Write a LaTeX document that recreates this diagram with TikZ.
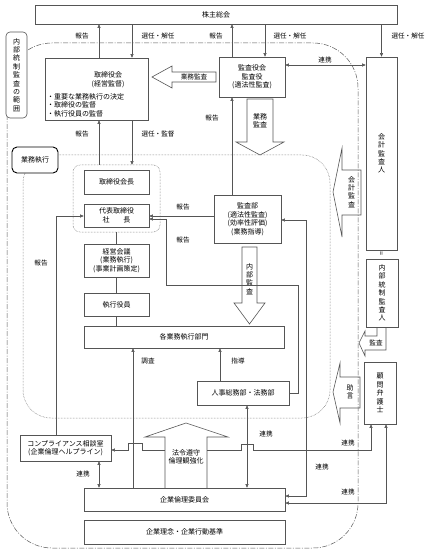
\documentclass[tikz,border=0pt]{standalone}
\usepackage{fontspec}
\setmainfont{Noto Sans CJK JP}
\usetikzlibrary{arrows.meta}
\definecolor{linegray}{RGB}{85,85,85}

\begin{document}
\begin{tikzpicture}[x=1pt,y=-1pt,
  font=\fontsize{7}{8.5}\selectfont,
  box/.style={draw=linegray, line width=0.6pt, align=center, inner sep=1pt},
  sz/.style 2 args={minimum width=#1pt, minimum height=#2pt},
  vtext/.style={align=center, inner sep=0pt, font=\fontsize{7}{8.4}\selectfont},
  lbl/.style={inner sep=0pt, font=\fontsize{6.6}{8}\selectfont},
  ln/.style={draw=linegray, line width=0.5pt},
  arr/.style={ln, -{Triangle[length=3.5pt,width=3pt]}},
  darr/.style={ln, {Triangle[length=3.5pt,width=3pt]}-{Triangle[length=3.5pt,width=3pt]}},
  hollow/.style={draw=linegray, line width=0.6pt, line join=miter}]
  \useasboundingbox (0,0) rectangle (431,553);

  % ranges
  \draw[linegray, line width=0.5pt, dash pattern=on 5pt off 1.5pt on 1pt off 1.5pt, rounded corners=45pt]
        (7,43) rectangle (358,548);
  \draw[linegray, line width=0.5pt, densely dotted, rounded corners=28pt]
        (23,155) rectangle (330,418);
  \node[box, sz={21}{86}, rounded corners=4pt, fill=white, vtext] (hani) at (16.5,75)
        {内\\部\\統\\制\\監\\査\\の\\範\\囲};
  \node[box, sz={46}{26}, rounded corners=5pt, fill=white, draw=black, line width=0.9pt] (gyomu) at (35,160) {業務執行};

  % boxes
  \node[box, sz={362}{19}] (kabu) at (216,14.5) {株主総会};
  \node[box, sz={103}{62}] (torikai) at (96.5,89) {};
  \node[align=center, inner sep=0pt] (torititle) at (108,79.5) {取締役会\\(経営監督)};
  \node[align=left, anchor=north west, inner sep=0pt] (toribullet) at (47,93)
        {・重要な業務執行の決定\\・取締役の監督\\・執行役員の監督};
  \node[box, sz={66}{40}] (kansayaku) at (252,77) {監査役会\\監査役\\(適法性監査)};
  \node[box, sz={31}{193}, vtext] (kaikei) at (381.5,153.5) {会\\計\\監\\査\\人};
  \node[inner sep=0pt, rotate=90] (equal) at (382,254) {=};
  \node[box, sz={32}{68}, vtext] (naibukansa) at (382,293) {内\\部\\統\\制\\監\\査\\人};
  \node[box, sz={32}{62}, vtext] (bengoshi) at (380,393) {顧\\問\\弁\\護\\士};

  \node[draw=linegray, line width=0.5pt, densely dotted, rounded corners=7pt, sz={87}{67}] (grp) at (116.5,198.5) {};
  \node[box, sz={65}{24}] (kaicho) at (116.5,182) {取締役会長};
  \node[box, sz={65}{23}] (shacho) at (116.5,215.5) {代表取締役\\社\hspace{2em}長};
  \node[box, sz={65}{33}] (keiei) at (116.5,260.5) {経営会議\\(業務執行)\\(事業計画策定)};
  \node[box, sz={65}{23}] (shikko) at (116.5,304.5) {執行役員};
  \node[box, sz={200}{22}] (kakubu) at (184,337) {各業務執行部門};
  \node[box, sz={67}{48}] (kansabu) at (247.5,219) {監査部\\(適法性監査)\\(効率性評価)\\(業務指導)};
  \node[box, sz={92}{24}] (jinji) at (243,393) {人事総務部・法務部};
  \node[box, sz={91}{26}] (compl) at (65.5,448) {コンプライアンス相談室\\(企業倫理ヘルプライン)};
  \node[box, sz={201}{23}] (rinri) at (184.5,499.5) {企業倫理委員会};
  \node[box, sz={201}{24}] (rinen) at (184.5,532) {企業理念・企業行動基準};

  % hollow arrows
  \draw[hollow] (216,72) -- (172,72) -- (172,66) -- (152,77) -- (172,88) -- (172,82) -- (216,82) -- cycle;
  \node[lbl] (gyomukansa) at (194,77) {業務監査};
  \draw[hollow] (247,99) -- (247,142) -- (236,142) -- (260,155) -- (284,142) -- (273,142) -- (273,99) -- cycle;
  \node[vtext] (gyomukansa2) at (260,121) {業務\\監査};
  \draw[hollow] (242,247) -- (242,303) -- (234,303) -- (249.5,324) -- (265,303) -- (257,303) -- (257,247) -- cycle;
  \node[vtext] (naibukansa2) at (249.5,279) {内\\部\\監\\査};
  \draw[hollow] (361,170) -- (342,170) -- (342,148) -- (333,192) -- (342,237) -- (342,215) -- (361,215) -- cycle;
  \node[vtext] (kaikeikansa) at (351.5,192) {会\\計\\監\\査};
  \draw[hollow] (360,377) -- (340,377) -- (340,363) -- (333,392) -- (340,423) -- (340,408) -- (360,408) -- cycle;
  \node[vtext] (jogen) at (350,392) {助\\言};
  \draw[hollow] (377,327) -- (377,336) -- (365,336) -- (365,331) -- (359,343) -- (365,356) -- (365,350) -- (386,350) -- (386,327);
  \node[lbl] (kansa) at (376,343) {監査};
  \draw[hollow] (165,488) -- (165,437) -- (145,437) -- (186,423) -- (228,437) -- (207,437) -- (207,488);
  \node[vtext] (horei) at (186,457) {法令遵守\\倫理観強化};

  % connectors
  \draw[arr] (99,0 |- torikai.north) -- (99,0 |- kabu.south);
  \draw[arr] (132,0 |- kabu.south) -- (132,0 |- torikai.north);
  \draw[arr] (232,0 |- kansayaku.north) -- (232,0 |- kabu.south);
  \draw[arr] (265,0 |- kabu.south) -- (265,0 |- kansayaku.north);
  \draw[arr] (kaikei.north |- kabu.south) -- (kaikei.north);
  \draw[darr] (kansayaku.east |- 0,65) -- (kaikei.west |- 0,65);
  \draw[arr] (99,0 |- grp.north) -- (99,0 |- torikai.south);
  \draw[arr] (132,0 |- torikai.south) -- (132,0 |- grp.north);
  \draw[arr] (232,0 |- kansabu.north) -- (232,0 |- kansayaku.south);
  \draw[arr] (kansabu.west |- 0,216) -- (shacho.east |- 0,216);
  \draw[arr] (jinji.east) -- ++(9,0) |- (166,285) |- (shacho.east |- 0,219);
  \draw[arr] (56,0 |- compl.north) |- (shacho.west |- 0,216);
  \draw[ln] (grp.south) -- (keiei.north);
  \draw[ln] (keiei.south) -- (shikko.north);
  \draw[ln] (shikko.south) -- (shikko.south |- kakubu.north);
  \draw[arr] (220,0 |- jinji.north) -- (220,0 |- kakubu.south);
  \draw[arr] (133,0 |- rinri.north) -- (133,0 |- kakubu.south);
  \draw[darr] (247,0 |- rinri.north) -- (247,0 |- jinji.south);
  \draw[darr] (kansabu.east |- 0,220) -| (306,496) -- (rinri.east |- 0,496);
  \draw[darr] (99,0 |- compl.south) -- (99,0 |- rinri.north);
  \draw[darr] (rinri.east |- 0,503) -| (386,0 |- bengoshi.south);
  \coordinate (horeiL) at (165,450);
  \coordinate (horeiR) at (207,450);
  \draw[arr] (horeiL) -- (142,450) -- (142,443) -- (128,443) -- (128,450) -- (compl.east |- horeiL);
  \draw[arr] (horeiR) -- (241,450) -- (241,444) -- (253,444) -- (253,450) -| (371,0 |- bengoshi.south);

  % labels
  \node[lbl] (hokoku1) at (82,36) {報告};
  \node[lbl] (senkai1) at (158,36) {選任・解任};
  \node[lbl] (hokoku2) at (216,36) {報告};
  \node[lbl] (senkai2) at (290,36) {選任・解任};
  \node[lbl] (senkai3) at (408,36) {選任・解任};
  \node[lbl] (renkei1) at (325,60) {連携};
  \node[lbl] (hokoku3) at (82,134) {報告};
  \node[lbl] (senkan) at (158,134) {選任・監督};
  \node[lbl] (hokoku4) at (212,118) {報告};
  \node[lbl] (hokoku5) at (183,207) {報告};
  \node[lbl] (hokoku6) at (183,240) {報告};
  \node[lbl] (hokoku7) at (41,263) {報告};
  \node[lbl] (chosa) at (148,361) {調査};
  \node[lbl] (shido) at (238,361) {指導};
  \node[lbl] (renkei2) at (266,434) {連携};
  \node[lbl] (renkei3) at (348,443) {連携};
  \node[lbl] (renkei4) at (322,467) {連携};
  \node[lbl] (renkei5) at (83,474) {連携};
  \node[lbl] (renkei6) at (348,492) {連携};
\end{tikzpicture}
\end{document}
